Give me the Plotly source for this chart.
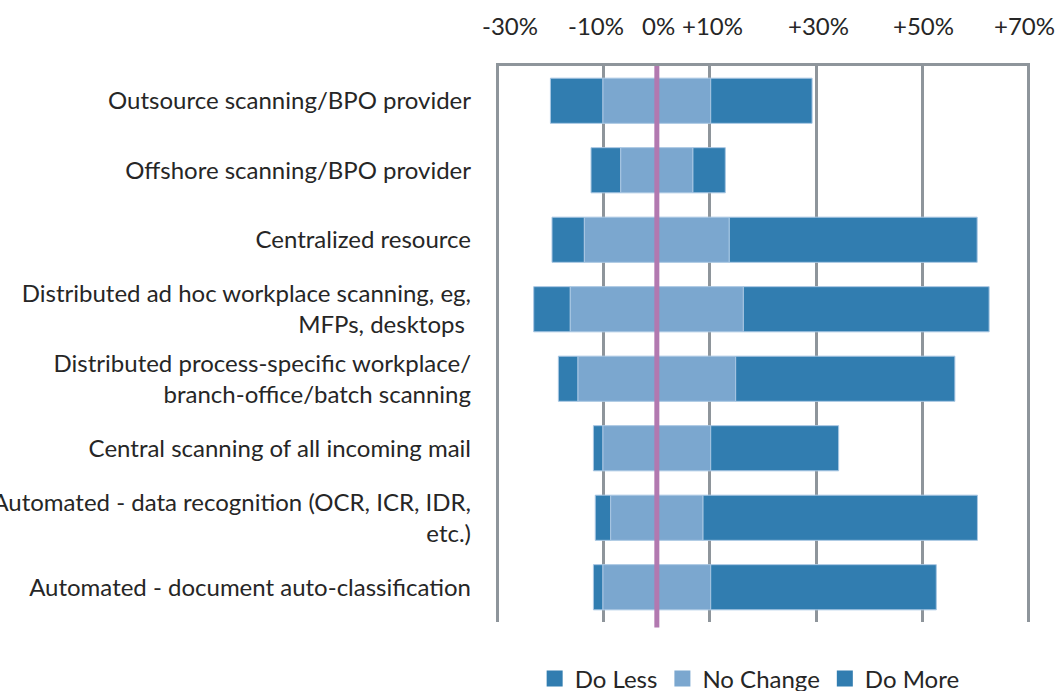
import plotly.graph_objects as go

categories = [
    "Outsource scanning/BPO provider",
    "Offshore scanning/BPO provider",
    "Centralized resource",
    "Distributed ad hoc workplace scanning, eg,<br>MFPs, desktops ",
    "Distributed process-specific workplace/<br>branch-office/batch scanning",
    "Central scanning of all incoming mail",
    "Automated - data recognition (OCR, ICR, IDR,<br>etc.)",
    "Automated - document auto-classification",
]
do_less = [9.9, 5.6, 6.1, 6.9, 3.7, 1.8, 2.9, 1.8]
no_change = [20.3, 13.6, 27.3, 32.6, 29.7, 20.3, 17.4, 20.3]
do_more = [19.1, 6.1, 46.7, 46.3, 41.3, 24.1, 51.7, 42.5]

tick_vals = [-30, -10, 0, 10, 30, 50, 70]
tick_text = ["-30%", "-10%", "0%", "+10%", "+30%", "+50%", "+70%"]
# small horizontal nudges of the top tick labels (pixels), as laid out in the source
tick_nudge = [12, -8, 2, 3, 2, 1, -4]

DARK = "#317DB0"
LIGHT = "#7BA7CF"
EDGE = "#A9C7E3"
GRID = "#8E959B"
FONT = "Lato"
FS = 24

half = [n / 2 for n in no_change]
fig = go.Figure()
fig.add_trace(go.Bar(
    name="Do Less", y=categories, x=do_less,
    base=[-(h + d) for h, d in zip(half, do_less)], orientation="h",
    marker=dict(color=DARK, line=dict(color=EDGE, width=1)), showlegend=False,
))
fig.add_trace(go.Bar(
    name="No Change", y=categories, x=no_change,
    base=[-h for h in half], orientation="h",
    marker=dict(color=LIGHT, line=dict(color=EDGE, width=1)), showlegend=False,
))
fig.add_trace(go.Bar(
    name="Do More", y=categories, x=do_more,
    base=half, orientation="h",
    marker=dict(color=DARK, line=dict(color=EDGE, width=1)), showlegend=False,
))
# legend entries with larger square symbols
for name, col in [("Do Less", DARK), ("No Change", LIGHT), ("Do More", DARK)]:
    fig.add_trace(go.Scatter(
        name=name, x=[None], y=[None], mode="markers",
        marker=dict(symbol="square", size=16, color=col), showlegend=True,
    ))

fig.add_shape(type="line", xref="x", yref="paper", x0=0, x1=0, y0=-0.01, y1=1,
              line=dict(color="#B279B0", width=5), layer="above")

for v, t, dx in zip(tick_vals, tick_text, tick_nudge):
    fig.add_annotation(x=v, y=1, xref="x", yref="paper", text=t, showarrow=False,
                       xanchor="center", yanchor="middle", xshift=dx, yshift=41,
                       font=dict(size=FS, family=FONT, color="#262626"))

fig.update_layout(
    width=1056, height=691,
    barmode="overlay", bargap=0.35,
    plot_bgcolor="white", paper_bgcolor="white",
    margin=dict(l=496, r=26, t=66, b=69, autoexpand=False),
    font=dict(family=FONT, size=FS, color="#262626"),
    showlegend=True,
    legend=dict(orientation="h", x=0.475, xanchor="center", y=-0.062, yanchor="top",
                font=dict(size=FS), itemwidth=30, traceorder="normal",
                tracegroupgap=0),
    xaxis=dict(
        side="top", range=[-30.3, 70.3], tickvals=tick_vals,
        showticklabels=False,
        showgrid=True, gridcolor=GRID, gridwidth=3, zeroline=False,
        showline=True, linecolor=GRID, linewidth=3, ticks="", automargin=False,
    ),
    yaxis=dict(
        autorange="reversed", showgrid=False, zeroline=False, ticks="",
        ticklabelstandoff=24, tickfont=dict(size=FS), automargin=False,
    ),
)

fig.write_html("out.html", config={"displayModeBar": False},
               post_script="document.body.style.margin='0';")
